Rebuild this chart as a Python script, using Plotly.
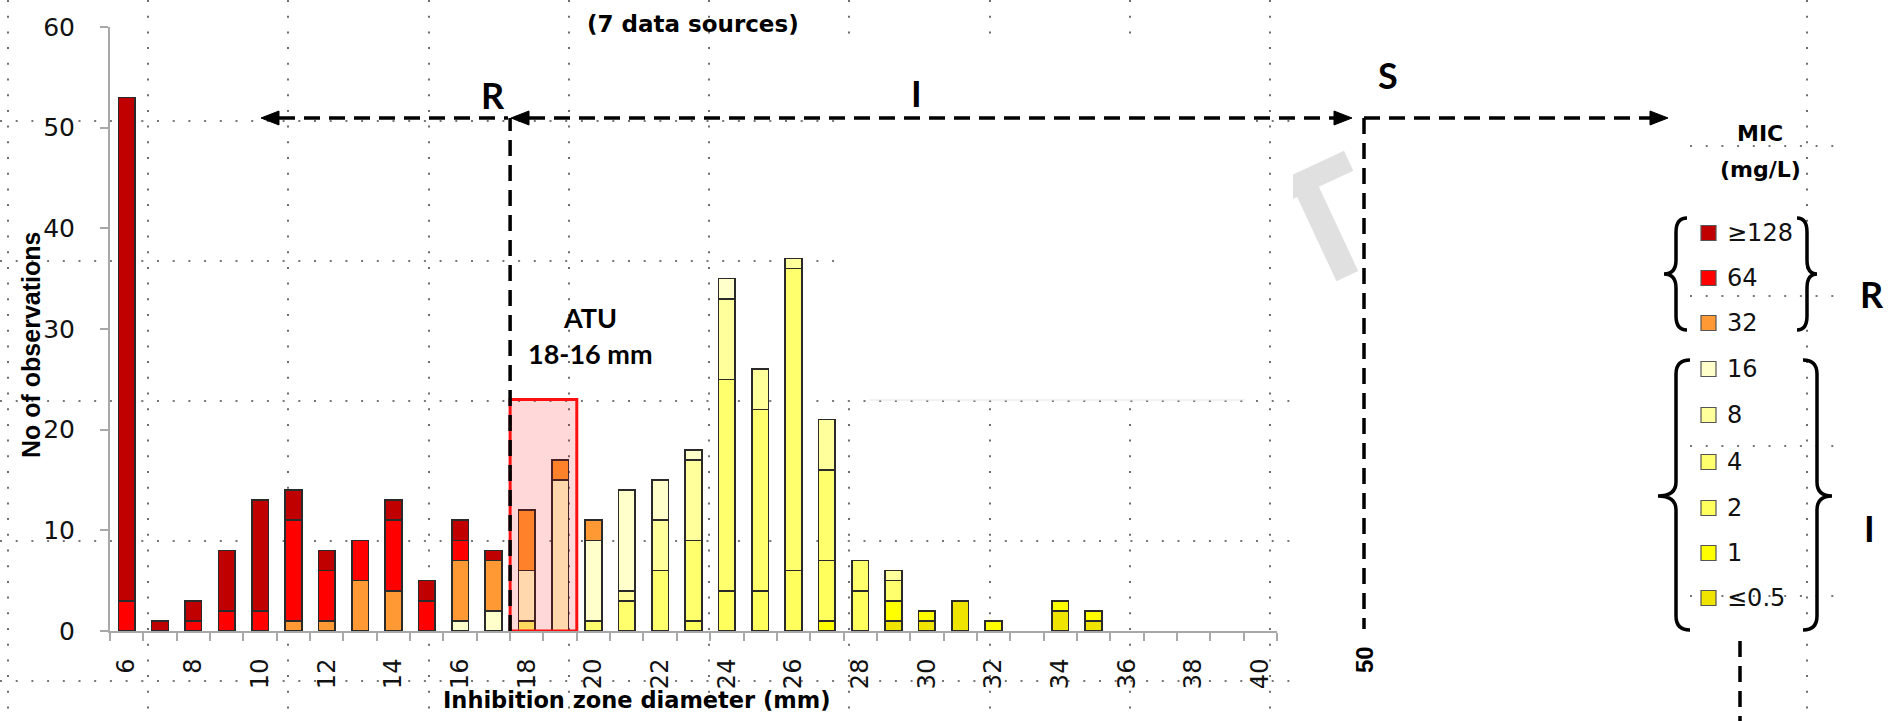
import math
import plotly.graph_objects as go

W, H = 1896, 721

# ---------------- data ----------------
zones = [6, 7, 8, 9, 10, 11, 12, 13, 14, 15, 16, 17, 18, 19, 20, 21, 22, 23,
         24, 25, 26, 27, 28, 29, 30, 31, 32, 33, 34, 35, 36, 37, 38, 39, 40]
tick_zones = [6, 8, 10, 12, 14, 16, 18, 20, 22, 24, 26, 28, 30, 32, 34, 36, 38, 40]
y_ticks = [0, 10, 20, 30, 40, 50, 60]
mic_labels = ["≤0.5", "1", "2", "4", "8", "16", "32", "64", "≥128"]

#          6  7  8  9 10 11 12 13 14 15 16 17 18 19 20 21 22 23 24 25 26 27 28 29 30 31 32 33 34 35 36 37 38 39 40
n_le05 = [0, 0, 0, 0, 0, 0, 0, 0, 0, 0, 0, 0, 0, 0, 0, 0, 0, 0, 0, 0, 0, 0, 0, 1, 1, 3, 0, 0, 2, 1, 0, 0, 0, 0, 0]
n_1 =    [0, 0, 0, 0, 0, 0, 0, 0, 0, 0, 0, 0, 0, 0, 0, 0, 0, 0, 0, 0, 0, 1, 0, 2, 1, 0, 1, 0, 1, 1, 0, 0, 0, 0, 0]
n_2 =    [0, 0, 0, 0, 0, 0, 0, 0, 0, 0, 0, 0, 0, 0, 0, 0, 0, 1, 4, 4, 6, 6, 4, 0, 0, 0, 0, 0, 0, 0, 0, 0, 0, 0, 0]
n_4 =    [0, 0, 0, 0, 0, 0, 0, 0, 0, 0, 0, 0, 1, 0, 1, 3, 6, 8, 21, 18, 30, 9, 3, 2, 0, 0, 0, 0, 0, 0, 0, 0, 0, 0, 0]
n_8 =    [0, 0, 0, 0, 0, 0, 0, 0, 0, 0, 0, 0, 0, 0, 0, 1, 5, 8, 8, 4, 1, 5, 0, 1, 0, 0, 0, 0, 0, 0, 0, 0, 0, 0, 0]
n_16 =   [0, 0, 0, 0, 0, 0, 0, 0, 0, 0, 1, 2, 5, 15, 8, 10, 4, 1, 2, 0, 0, 0, 0, 0, 0, 0, 0, 0, 0, 0, 0, 0, 0, 0, 0]
n_32 =   [0, 0, 0, 0, 0, 1, 1, 5, 4, 0, 6, 5, 6, 2, 2, 0, 0, 0, 0, 0, 0, 0, 0, 0, 0, 0, 0, 0, 0, 0, 0, 0, 0, 0, 0]
n_64 =   [3, 0, 1, 2, 2, 10, 5, 4, 7, 3, 2, 0, 0, 0, 0, 0, 0, 0, 0, 0, 0, 0, 0, 0, 0, 0, 0, 0, 0, 0, 0, 0, 0, 0, 0]
n_128 =  [50, 1, 2, 6, 11, 3, 2, 0, 2, 2, 2, 1, 0, 0, 0, 0, 0, 0, 0, 0, 0, 0, 0, 0, 0, 0, 0, 0, 0, 0, 0, 0, 0, 0, 0]

series = [n_le05, n_1, n_2, n_4, n_8, n_16, n_32, n_64, n_128]
colors = ["#EEE400", "#FFFF00", "#FFFF5E", "#FFFF6E", "#FFFF9C", "#FFFFCC",
          "#FF9933", "#FF0000", "#C00000"]

atu_range = [17.5, 19.5]
atu_top = 23

# ---------------- helpers ----------------
def px(x):
    return x / W


def py(y):
    return 1 - y / H


def P(x, y):
    return f"{px(x):.5f},{py(y):.5f}"


fig = go.Figure()
for name, vals, col in zip(mic_labels, series, colors):
    fig.add_trace(go.Bar(
        x=zones, y=[v if v else None for v in vals], name=name, width=0.5,
        marker=dict(color=col, line=dict(color="#2a2a2a", width=1.6)),
        showlegend=False, hoverinfo="x+y+name"))

shapes = []
ann = []

# dotted background grid (slide grid)
GRID = dict(color="#4a4a4a", width=1.6, dash="2px,13.7px")


def gridv(xx):
    shapes.append(dict(type="line", xref="paper", yref="paper", layer="below",
                       x0=px(xx), x1=px(xx), y0=py(0), y1=py(721), line=GRID))


for yy in [121, 261, 401, 541, 681]:
    shapes.append(dict(type="line", xref="paper", yref="paper", layer="below",
                       x0=px(0), x1=px(1290), y0=py(yy), y1=py(yy), line=GRID))
for xx in [8, 148, 288, 429, 569, 709, 849, 990, 1130]:
    gridv(xx)
# grid in legend area
for yy in [146, 296, 446, 596]:
    shapes.append(dict(type="line", xref="paper", yref="paper", layer="below",
                       x0=px(1690), x1=px(1845), y0=py(yy), y1=py(yy), line=GRID))
gridv(1807)
# white patch hiding part of the grid
shapes.append(dict(type="rect", xref="paper", yref="paper", layer="below",
                   x0=px(835), x1=px(1250), y0=py(398), y1=py(35),
                   fillcolor="white", line=dict(width=0)))
shapes.append(dict(type="line", xref="paper", yref="paper", layer="below",
                   x0=px(870), x1=px(1245), y0=py(400), y1=py(400),
                   line=dict(color="#e4e4e4", width=1.2)))

# faint watermark letter (partly hidden), drawn as a rotated polygon
t_local = [(-50, -57.5), (50, -57.5), (50, -35.5), (12, -35.5), (12, 57.5),
           (-12, 57.5), (-12, -35.5), (-50, -35.5)]
a = math.radians(25)
cx, cy = 1323, 224
pts = [(cx + x * math.cos(a) + y * math.sin(a), cy - x * math.sin(a) + y * math.cos(a))
       for x, y in t_local]
shapes.append(dict(type="path", xref="paper", yref="paper", layer="below",
                   path="M" + " L".join(P(x, y) for x, y in pts) + " Z",
                   fillcolor="#e0e0e0", line=dict(width=0)))
shapes.append(dict(type="rect", xref="paper", yref="paper", layer="below",
                   x0=px(1240), x1=px(1293), y0=py(300), y1=py(140),
                   fillcolor="white", line=dict(width=0)))
gridv(1270)

# ATU box
shapes.append(dict(type="rect", xref="x", yref="y", layer="above",
                   x0=atu_range[0], x1=atu_range[1], y0=0, y1=atu_top,
                   fillcolor="rgba(255,0,0,0.15)", line=dict(color="#FF1010", width=3)))

DASH = dict(color="black", width=3.5, dash="16px,9px")
YL = 118


def hline(x0, x1, y):
    shapes.append(dict(type="line", xref="paper", yref="paper", layer="above",
                       x0=px(x0), x1=px(x1), y0=py(y), y1=py(y), line=DASH))


def vline(x, y0, y1):
    shapes.append(dict(type="line", xref="paper", yref="paper", layer="above",
                       x0=px(x), x1=px(x), y0=py(y0), y1=py(y1), line=DASH))


def arrow(tip, y, d, L=18, h=14):
    b = tip - d * L
    shapes.append(dict(type="path", xref="paper", yref="paper", layer="above",
                       path=f"M{P(tip, y)} L{P(b, y - h / 2)} L{P(b, y + h / 2)} Z",
                       fillcolor="black", line=dict(color="black", width=1)))


# R zone arrow
arrow(261, YL, -1)
hline(279, 508, YL)
# R breakpoint line (between 17 and 18 mm)
shapes.append(dict(type="line", xref="x", yref="paper", layer="above",
                   x0=atu_range[0], x1=atu_range[0], y0=py(631), y1=py(YL), line=DASH))
# I zone double arrow
arrow(511, YL, -1)
hline(529, 1334, YL)
arrow(1352, YL, 1)
# S line
vline(1364, YL, 629)
hline(1364, 1650, YL)
arrow(1668, YL, 1)
# dashed line under legend
vline(1740, 641, 721)


# braces
def brace(xe, xb, xt, yt, yb, ym, r=14):
    p = (f"M{P(xe, yt)} Q{P(xb, yt)} {P(xb, yt + r)} L{P(xb, ym - r)} "
         f"Q{P(xb, ym)} {P(xt, ym)} Q{P(xb, ym)} {P(xb, ym + r)} "
         f"L{P(xb, yb - r)} Q{P(xb, yb)} {P(xe, yb)}")
    shapes.append(dict(type="path", xref="paper", yref="paper", layer="above",
                       path=p, fillcolor="rgba(0,0,0,0)",
                       line=dict(color="black", width=3.5)))


brace(1687, 1676, 1664, 218, 330, 274)
brace(1797, 1807, 1817, 218, 330, 274)
brace(1690, 1676, 1658, 360, 630, 496)
brace(1803, 1817, 1832, 360, 630, 496)


def text(x, y, t, size, family="DejaVu Sans", color="black", angle=0, xa="center"):
    ann.append(dict(x=px(x), y=py(y), xref="paper", yref="paper", showarrow=False,
                    text=t, xanchor=xa, yanchor="middle", textangle=angle,
                    font=dict(family=family, size=size, color=color)))


# legend squares and labels
leg_rows = [598, 553, 508, 462, 415, 369, 323, 278, 233]
for lab, col, yy in zip(mic_labels, colors, leg_rows):
    shapes.append(dict(type="rect", xref="paper", yref="paper", layer="above",
                       x0=px(1701), x1=px(1716), y0=py(yy + 7.5), y1=py(yy - 7.5),
                       fillcolor=col, line=dict(color="#555555", width=1.2)))
    text(1725, yy, lab, 24, color="#111111", xa="left")

text(693, 24, "<b>(7 data sources)</b>", 23)
text(31, 345, "<b>No of observations</b>", 25, "Liberation Sans", angle=-90)
text(637, 700, "<b>Inhibition zone diameter (mm)</b>", 22.5)
text(493, 95, "<b>R</b>", 36, "Lato")
text(916, 93, "<b>I</b>", 36, "Lato")
text(1388, 75, "<b>S</b>", 36, "Lato")
text(1872, 294, "<b>R</b>", 36, "Lato")
text(1869, 528, "<b>I</b>", 36, "Lato")
text(590, 317, "<b>ATU</b>", 27, "Lato")
text(590, 353, "<b>18-16 mm</b>", 27, "Lato")
text(1364, 660, "<b>50</b>", 24, "Liberation Sans", angle=-90)
text(1760, 133, "<b>MIC</b>", 22)
text(1760, 169, "<b>(mg/L)</b>", 22)

fig.update_layout(
    barmode="stack", width=W, height=H,
    margin=dict(l=0, r=0, t=0, b=0),
    paper_bgcolor="white", plot_bgcolor="rgba(0,0,0,0)",
    shapes=shapes, annotations=ann,
    xaxis=dict(domain=[px(110), px(1277)], range=[5.5, 40.5],
               tickmode="array", tickvals=tick_zones, ticktext=[str(v) for v in tick_zones],
               tickangle=-90, ticks="", ticklabelstandoff=16,
               tickfont=dict(family="DejaVu Sans", size=24, color="#111111"),
               showline=True, linecolor="#a8a8a8", linewidth=2,
               showgrid=False, zeroline=False, automargin=False,
               minor=dict(ticks="outside", tickmode="linear", tick0=5.5, dtick=1,
                          ticklen=8, tickcolor="#a8a8a8", tickwidth=1.5, showgrid=False)),
    yaxis=dict(domain=[py(631), py(27)], range=[0, 60],
               tickmode="array", tickvals=y_ticks,
               ticks="outside", ticklen=8, tickcolor="#a8a8a8", tickwidth=1.5,
               ticklabelstandoff=20,
               tickfont=dict(family="DejaVu Sans", size=25, color="#111111"),
               showline=True, linecolor="#a8a8a8", linewidth=2,
               showgrid=False, zeroline=False, automargin=False),
)

fig.write_html("out.html")
